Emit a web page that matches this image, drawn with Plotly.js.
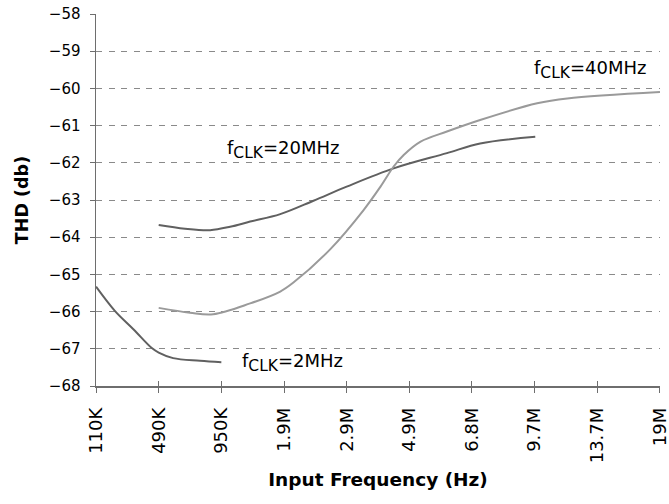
<!DOCTYPE html>
<html>
<head>
<meta charset="utf-8">
<script src="https://cdn.plot.ly/plotly-3.0.1.min.js"></script>
<style>html,body{margin:0;padding:0;background:#fff;}#chart{width:669px;height:504px;}</style>
</head>
<body>
<div id="chart"></div>
<script>
// Tick labels (evenly spaced categories on the x axis)
const tickLabels = ["110K","490K","950K","1.9M","2.9M","4.9M","6.8M","9.7M","13.7M","19M"];
const tickPositions = [0,1,2,3,4,5,6,7,8,9];

// fCLK = 2MHz
const x2 = [0, 0.3, 0.6, 0.89, 1.0, 1.23, 1.66, 2.0];
const y2 = [-65.33, -65.98, -66.48, -66.98, -67.1, -67.25, -67.32, -67.36];

// fCLK = 20MHz
const x20 = [1.0, 1.42, 1.82, 2.14, 2.46, 2.94, 3.47, 4.0, 4.75, 5.6, 6.13, 7.01];
const y20 = [-63.67, -63.77, -63.81, -63.72, -63.58, -63.38, -63.02, -62.64, -62.15, -61.74, -61.48, -61.3];

// fCLK = 40MHz
const x40 = [1.0, 1.5, 1.87, 2.46, 2.94, 3.15, 3.74, 4.27, 4.54, 4.75, 4.91, 5.18, 5.6, 6.13, 7.04, 7.52, 9.0];
const y40 = [-65.9, -66.03, -66.07, -65.78, -65.46, -65.22, -64.32, -63.27, -62.64, -62.1, -61.79, -61.43, -61.16, -60.85, -60.4, -60.27, -60.1];

const font = "DejaVu Sans, Liberation Sans, Arial, sans-serif";
const dark = "#606060", light = "#9a9a9a", axisCol = "#6e6e6e";

const traces = [
  {x: x2, y: y2, mode: "lines", line: {color: dark, width: 2, shape: "spline", smoothing: 1}, hoverinfo: "skip"},
  {x: x20, y: y20, mode: "lines", line: {color: dark, width: 2, shape: "spline", smoothing: 1}, hoverinfo: "skip"},
  {x: x40, y: y40, mode: "lines", line: {color: light, width: 2, shape: "spline", smoothing: 1}, hoverinfo: "skip"},
  {x: [], y: [], xaxis: "x2", yaxis: "y", hoverinfo: "skip"}
];

const xr = [-0.0005, 9.0005];

const layout = {
  width: 669, height: 504,
  margin: {l: 96, r: 9, t: 14, b: 118},
  paper_bgcolor: "#fff", plot_bgcolor: "#fff",
  showlegend: false,
  font: {family: font, color: "#000"},
  xaxis: {
    range: xr, tickvals: tickPositions, ticktext: tickLabels,
    tickangle: -90, tickfont: {size: 18, family: font, color: "#000"},
    ticklabeloverflow: "allow",
    showgrid: false, zeroline: false,
    showline: true, linecolor: axisCol, linewidth: 1.5,
    ticks: "outside", ticklen: 5, tickcolor: axisCol, tickwidth: 1,
    ticklabelstandoff: 8,
    title: {text: "<b>Input Frequency (Hz)</b>", font: {size: 18.5, family: font, color: "#000"}, standoff: 10}
  },
  xaxis2: {
    overlaying: "x", anchor: "y", range: xr, tickvals: tickPositions,
    showticklabels: false, showgrid: false, zeroline: false, showline: false,
    ticks: "inside", ticklen: 5, tickcolor: axisCol, tickwidth: 1
  },
  yaxis: {
    range: [-68, -58], tick0: -58, dtick: 1,
    tickfont: {size: 15, family: font, color: "#000"},
    ticklabeloverflow: "allow",
    showgrid: true, gridcolor: "#8a8a8a", gridwidth: 1, griddash: "6px,6.5px",
    zeroline: false,
    showline: true, linecolor: axisCol, linewidth: 1.5,
    ticks: "outside", ticklen: 5, tickcolor: axisCol, tickwidth: 1,
    ticklabelstandoff: 6,
    title: {text: "<b>THD (db)</b>", font: {size: 17.5, family: font, color: "#000"}, standoff: 15}
  },
  annotations: [
    {x: 6.96, y: -59.5, xref: "x", yref: "y", xanchor: "left", yanchor: "middle", showarrow: false,
     text: "f<sub><span style=\"font-size:15.5px\">CLK</span></sub>=40MHz", font: {size: 18, family: font, color: "#000"}},
    {x: 2.06, y: -61.63, xref: "x", yref: "y", xanchor: "left", yanchor: "middle", showarrow: false,
     text: "f<sub><span style=\"font-size:15.5px\">CLK</span></sub>=20MHz", font: {size: 18, family: font, color: "#000"}},
    {x: 2.30, y: -67.37, xref: "x", yref: "y", xanchor: "left", yanchor: "middle", showarrow: false,
     text: "f<sub><span style=\"font-size:15.5px\">CLK</span></sub>=2MHz", font: {size: 18, family: font, color: "#000"}}
  ]
};

Plotly.newPlot("chart", traces, layout, {staticPlot: true, displayModeBar: false});
</script>
</body>
</html>
